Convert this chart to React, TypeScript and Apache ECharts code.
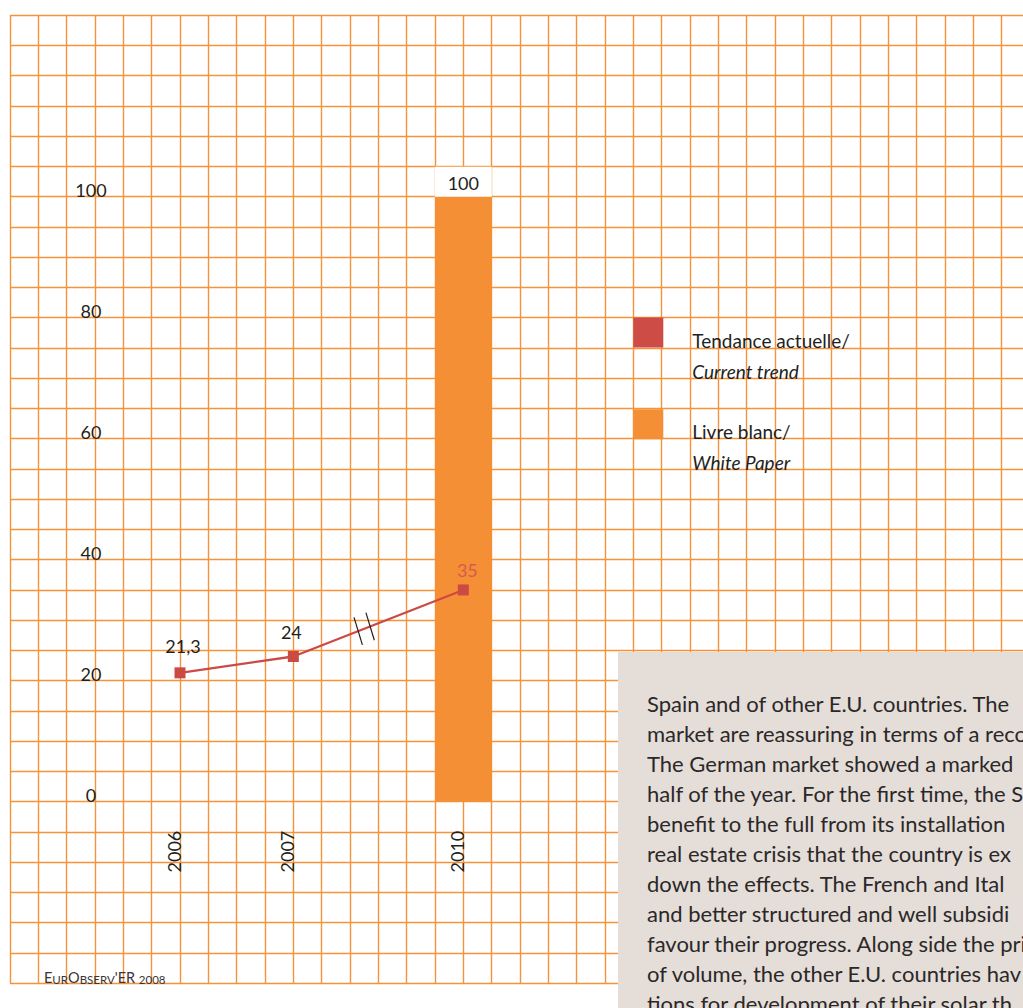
import React, { useEffect, useRef } from 'react';
import * as echarts from 'echarts';

// ---------- data ----------
const years = ['2006', '2007', '2010'];
const currentTrend = [21.3, 24, 35];
const whitePaper: (number | null)[] = [null, null, 100];
const yTickLabels = [0, 20, 40, 60, 80, 100];
const trendName = 'Tendance actuelle/Current trend';
const paperName = 'Livre blanc/White Paper';
const legendLines: Record<string, string[]> = {
  [trendName]: ['Tendance actuelle/', 'Current trend'],
  [paperName]: ['Livre blanc/', 'White Paper'],
};
const bodyLines = [
  'Spain and of other E.U. countries. The',
  'market are reassuring in terms of a reco',
  'The German market showed a marked',
  'half of the year. For the first time, the S',
  'benefit to the full from its installation',
  'real estate crisis that the country is ex',
  'down the effects. The French and Ital',
  'and better structured and well subsidi',
  'favour their progress. Along side the pri',
  'of volume, the other E.U. countries hav',
  'tions for development of their solar th',
];

// ---------- layout ----------
const COL_W = 85 / 3;
const COLS = 36;
const GRID_TOP = 15.2;
const UNIT_PX = 6.05;
const Y_MIN = -30;
const Y_MAX = 130;
const yearColumns = [6, 10, 16];
const labelOffsets = [
  [3, -27],
  [-2, -25],
  [4, -19.5],
];
const FONT = 'Lato';
const GRID_COLOR = '#f5923a';
const BAR_COLOR = '#f58f35';
const TREND_COLOR = '#cb4a43';
const TEXT_COLOR = '#231f20';

export default function App() {
  const ref = useRef<HTMLDivElement>(null);

  useEffect(() => {
    if (!ref.current) return;
    const chart = echarts.init(ref.current, undefined, { renderer: 'svg' });

    const lineData = currentTrend.map((v, i) => ({
      value: [yearColumns[i], v],
      label: {
        offset: labelOffsets[i],
        color: i === currentTrend.length - 1 ? '#d65a50' : TEXT_COLOR,
      },
    }));
    const barData = whitePaper
      .map((v, i) => (v == null ? null : [yearColumns[i], v]))
      .filter((d) => d != null);

    const gridHeight = (Y_MAX - Y_MIN) * UNIT_PX;
    const zeroY = GRID_TOP + Y_MAX * UNIT_PX;

    const option: any = {
      animation: false,
      backgroundColor: '#ffffff',
      textStyle: { fontFamily: FONT },
      grid: [
        {
          left: 10,
          top: GRID_TOP,
          width: COLS * COL_W,
          height: gridHeight,
          containLabel: false,
          outerBoundsMode: 'none',
        },
        {
          left: 10,
          top: GRID_TOP,
          width: COLS * COL_W,
          height: zeroY - GRID_TOP,
          containLabel: false,
          outerBoundsMode: 'none',
        },
      ],
      xAxis: [
        {
          type: 'value',
          gridIndex: 0,
          min: 0,
          max: COLS,
          interval: 1,
          axisLine: { show: false },
          axisTick: { show: false },
          axisLabel: { show: false },
          splitLine: { show: true, lineStyle: { color: GRID_COLOR, width: 1.4 } },
        },
        {
          type: 'value',
          gridIndex: 1,
          position: 'bottom',
          min: 0,
          max: COLS,
          interval: 1,
          axisLine: { show: false },
          axisTick: { show: false },
          splitLine: { show: false },
          axisLabel: {
            rotate: 90,
            margin: 29,
            fontSize: 18,
            lineHeight: 13,
            verticalAlign: 'bottom',
            fontFamily: FONT,
            color: TEXT_COLOR,
            formatter: (v: number) => {
              const i = yearColumns.indexOf(v);
              return i >= 0 ? years[i] : '';
            },
          },
        },
      ],
      yAxis: [
        {
          type: 'value',
          gridIndex: 0,
          min: Y_MIN,
          max: Y_MAX,
          interval: 5,
          axisLine: { show: false },
          axisTick: { show: false },
          splitLine: { show: true, lineStyle: { color: GRID_COLOR, width: 1.4 } },
          axisLabel: {
            margin: -81,
            align: 'center',
            verticalAlign: 'bottom',
            lineHeight: 14,
            fontSize: 18,
            fontFamily: FONT,
            color: TEXT_COLOR,
            formatter: (v: number) => (yTickLabels.indexOf(v) >= 0 ? String(v) : ''),
          },
        },
        {
          type: 'value',
          gridIndex: 1,
          min: 0,
          max: 1,
          show: false,
        },
      ],
      legend: {
        orient: 'vertical',
        left: 633.3,
        top: 317.5,
        padding: 0,
        itemWidth: 30,
        itemHeight: 30,
        itemGap: 28.8,
        selectedMode: false,
        data: [
          { name: trendName, icon: 'rect', itemStyle: { color: '#cd4c46' } },
          { name: paperName, icon: 'rect', itemStyle: { color: BAR_COLOR } },
        ],
        formatter: (name: string) => {
          const l = legendLines[name];
          return `{a|${l[0]}}\n{b|${l[1]}}`;
        },
        textStyle: {
          padding: [46, 0, 0, 24],
          rich: {
            a: { fontSize: 19, lineHeight: 31, fontFamily: FONT, color: TEXT_COLOR },
            b: { fontSize: 19, lineHeight: 31, fontFamily: FONT, fontStyle: 'italic', color: TEXT_COLOR },
          },
        },
      },
      series: [
        {
          name: paperName,
          type: 'bar',
          data: barData,
          barWidth: 2 * COL_W,
          itemStyle: { color: BAR_COLOR },
          label: {
            show: true,
            position: 'top',
            distance: 0,
            formatter: (p: any) => String(p.value[1]),
            backgroundColor: '#ffffff',
            width: 57,
            height: 30,
            lineHeight: 28,
            align: 'center',
            fontSize: 18,
            fontFamily: FONT,
            color: TEXT_COLOR,
          },
          z: 2,
        },
        {
          name: trendName,
          type: 'line',
          data: lineData,
          symbol: 'rect',
          symbolSize: 11,
          lineStyle: { color: TREND_COLOR, width: 2.3 },
          itemStyle: { color: TREND_COLOR },
          label: {
            show: true,
            position: 'inside',
            fontSize: 18,
            fontFamily: FONT,
            formatter: (p: any) => String(p.value[1]).replace('.', ','),
          },
          z: 4,
        },
        {
          type: 'custom',
          silent: true,
          data: [[yearColumns[1], currentTrend[1], yearColumns[2], currentTrend[2]]],
          encode: { x: [0, 2], y: [1, 3] },
          z: 6,
          renderItem: (params: any, api: any) => {
            const a = api.coord([api.value(0), api.value(1)]);
            const b = api.coord([api.value(2), api.value(3)]);
            const t = 0.4167;
            const cx = a[0] + (b[0] - a[0]) * t;
            const cy = a[1] + (b[1] - a[1]) * t;
            const len = Math.hypot(b[0] - a[0], b[1] - a[1]);
            const ux = (b[0] - a[0]) / len;
            const uy = (b[1] - a[1]) / len;
            const gap = 6.4;
            const mk = (s: number) => ({
              type: 'line',
              shape: {
                x1: cx + ux * s * gap - 4.2,
                y1: cy + uy * s * gap - 13.8,
                x2: cx + ux * s * gap + 4.2,
                y2: cy + uy * s * gap + 13.8,
              },
              style: { stroke: '#231f20', lineWidth: 1.2 },
            });
            return { type: 'group', children: [mk(-1), mk(1)] };
          },
        },
      ],
      graphic: [
        {
          type: 'rect',
          z: 10,
          shape: { x: 618, y: 652, width: 420, height: 370 },
          style: { fill: '#e4ddd8' },
        },
        {
          type: 'text',
          z: 11,
          x: 647,
          y: 688,
          style: {
            text: bodyLines.join('\n'),
            fontSize: 22,
            lineHeight: 30,
            fontFamily: FONT,
            fill: '#2b2828',
            verticalAlign: 'top',
          },
        },
        {
          type: 'text',
          z: 11,
          x: 44,
          y: 985,
          style: {
            text: "{L|E}{S|UR}{L|O}{S|BSERV}{L|'ER }{S|2008}",
            verticalAlign: 'bottom',
            rich: {
              L: { fontSize: 14.5, lineHeight: 16, fontFamily: FONT, fill: '#3a3536', verticalAlign: 'bottom' },
              S: { fontSize: 11.5, lineHeight: 16, fontFamily: FONT, fill: '#3a3536', verticalAlign: 'bottom' },
            },
          },
        },
      ],
    };

    chart.setOption(option);
    return () => chart.dispose();
  }, []);

  return (
    <div
      ref={ref}
      style={{ position: 'absolute', left: 0, top: 0, width: 1023, height: 1008, background: '#fff' }}
    />
  );
}
